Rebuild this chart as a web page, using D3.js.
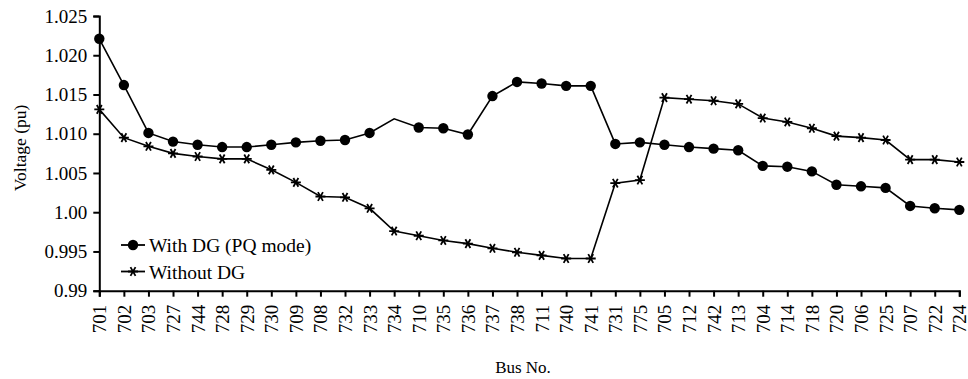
<!DOCTYPE html>
<html>
<head>
<meta charset="utf-8">
<script src="https://cdn.jsdelivr.net/npm/d3@7"></script>
<style>
  html, body { margin: 0; padding: 0; background: #fff; }
</style>
</head>
<body>
<svg id="chart" width="968" height="379"></svg>
<script>
const buses = ["701","702","703","727","744","728","729","730","709","708","732","733","734","710","735","736","737","738","711","740","741","731","775","705","712","742","713","704","714","718","720","706","725","707","722","724"];
const withDG = [1.0221,1.0162,1.0101,1.0090,1.0086,1.0083,1.0083,1.0086,1.0089,1.0091,1.0092,1.0101,1.0119,1.0108,1.0107,1.0099,1.0148,1.0166,1.0164,1.0161,1.0161,1.0087,1.0089,1.0086,1.0083,1.0081,1.0079,1.0059,1.0058,1.0052,1.0035,1.0033,1.0031,1.0008,1.0005,1.0003];
const withoutDG = [1.0131,1.0095,1.0084,1.0075,1.0071,1.0068,1.0068,1.0054,1.0038,1.0020,1.0019,1.0005,0.9976,0.9970,0.9964,0.9960,0.9954,0.9949,0.9945,0.9941,0.9941,1.0037,1.0041,1.0146,1.0144,1.0142,1.0138,1.0120,1.0115,1.0107,1.0097,1.0095,1.0092,1.0067,1.0067,1.0064];
const withDGNoMarker = ["734"];
const yTickValues = [0.99,0.995,1.00,1.005,1.010,1.015,1.020,1.025];
const yTickLabels = ["0.99","0.995","1.00","1.005","1.010","1.015","1.020","1.025"];
const seriesNames = ["With DG (PQ mode)","Without DG"];
const yTitle = "Voltage (pu)";
const xTitle = "Bus No.";

const FONT = "'Liberation Serif', 'Times New Roman', Times, 'DejaVu Serif', serif";
const svg = d3.select("#chart");
const x = d3.scalePoint().domain(buses).range([99.3, 959.3]);
const y = d3.scaleLinear().domain([0.99, 1.025]).range([290.7, 16]);

// axes
const yAxis = d3.axisLeft(y).tickValues(yTickValues)
  .tickFormat((d, i) => yTickLabels[i]).tickSizeOuter(0).tickSize(6).tickPadding(6);
const gy = svg.append("g").attr("transform", "translate(99.3,0)").call(yAxis);
gy.attr("font-family", FONT);
gy.select(".domain").attr("stroke", "#000").attr("stroke-width", 2);
gy.selectAll(".tick line").attr("stroke", "#000").attr("stroke-width", 2);
gy.selectAll(".tick text").attr("font-family", FONT).attr("font-size", 19).attr("fill", "#000");

const xAxis = d3.axisBottom(x).tickSizeOuter(0).tickSize(6);
const gx = svg.append("g").attr("transform", "translate(0,290.7)").call(xAxis);
gx.attr("font-family", FONT);
gx.select(".domain").attr("stroke", "#000").attr("stroke-width", 2);
gx.selectAll(".tick line").attr("stroke", "#000").attr("stroke-width", 2);
gx.selectAll(".tick text")
  .attr("font-family", FONT).attr("font-size", 19).attr("fill", "#000")
  .attr("text-anchor", "end").attr("dy", null).attr("y", null)
  .attr("dominant-baseline", "central")
  .attr("transform", "translate(0,14) rotate(-90)");

// lines
const line = d3.line().x(d => x(d.bus)).y(d => y(d.v));
const d1 = buses.map((b, i) => ({bus: b, v: withDG[i]}));
const d2 = buses.map((b, i) => ({bus: b, v: withoutDG[i]}));

svg.append("path").datum(d1).attr("d", line).attr("fill", "none").attr("stroke", "#000").attr("stroke-width", 1.6);
svg.append("path").datum(d2).attr("d", line).attr("fill", "none").attr("stroke", "#000").attr("stroke-width", 1.6);

svg.append("g").selectAll("circle").data(d1.filter(d => !withDGNoMarker.includes(d.bus)))
  .join("circle").attr("cx", d => x(d.bus)).attr("cy", d => y(d.v)).attr("r", 5.2).attr("fill", "#000");

function star(g, cx, cy, s) {
  const a = s * 0.87, b = s * 0.5;
  const p = `M${cx - s},${cy}L${cx + s},${cy}` +
            `M${cx - b},${cy - a}L${cx + b},${cy + a}` +
            `M${cx - b},${cy + a}L${cx + b},${cy - a}`;
  g.append("path").attr("d", p).attr("stroke", "#000").attr("stroke-width", 1.8).attr("fill", "none");
}
const gs = svg.append("g");
d2.forEach(d => star(gs, x(d.bus), y(d.v), 5));

// legend
const lg = svg.append("g").attr("font-family", FONT);
lg.append("line").attr("x1", 121).attr("x2", 145).attr("y1", 245).attr("y2", 245).attr("stroke", "#000").attr("stroke-width", 1.8);
lg.append("circle").attr("cx", 133).attr("cy", 245).attr("r", 5.2).attr("fill", "#000");
lg.append("text").attr("x", 149).attr("y", 252).attr("font-family", FONT).attr("font-size", 19.5).text(seriesNames[0]);
lg.append("line").attr("x1", 121).attr("x2", 145).attr("y1", 271.5).attr("y2", 271.5).attr("stroke", "#000").attr("stroke-width", 1.8);
star(lg, 133, 271.5, 5);
lg.append("text").attr("x", 149).attr("y", 278.5).attr("font-family", FONT).attr("font-size", 19.5).text(seriesNames[1]);

// titles
svg.append("text").attr("transform", "translate(20,148) rotate(-90)")
  .attr("text-anchor", "middle").attr("dominant-baseline", "central")
  .attr("font-family", FONT).attr("font-size", 17.5).text(yTitle);
svg.append("text").attr("x", 523).attr("y", 373).attr("text-anchor", "middle")
  .attr("font-family", FONT).attr("font-size", 17).text(xTitle);
</script>
</body>
</html>
